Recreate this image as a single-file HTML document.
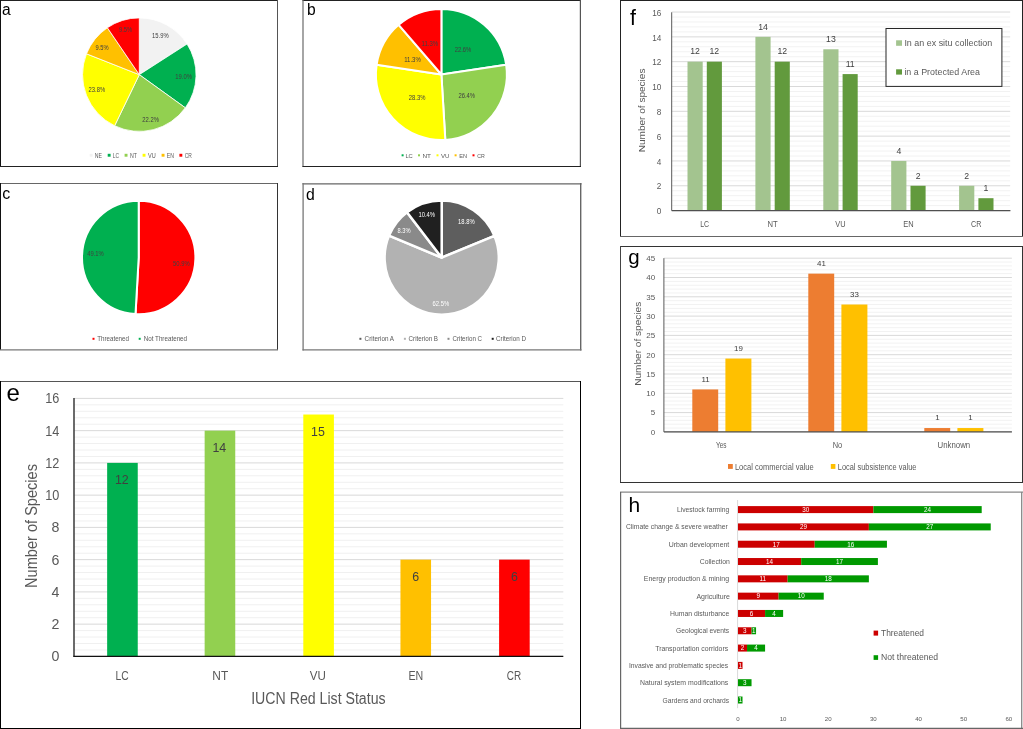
<!DOCTYPE html>
<html><head><meta charset="utf-8"><title>Figure</title>
<style>html,body{margin:0;padding:0;background:#fff;overflow:hidden;}svg{display:block;will-change:transform;}text{font-family:"Liberation Sans", Arial, sans-serif;}</style>
</head><body>
<svg width="1023" height="729" viewBox="0 0 1023 729">
<rect x="0" y="0" width="1023" height="729" fill="#fff"/>
<line x1="0.00" y1="0.50" x2="278.00" y2="0.50" stroke="#222" stroke-width="1"/>
<line x1="0.50" y1="0.00" x2="0.50" y2="167.00" stroke="#111" stroke-width="1"/>
<line x1="277.50" y1="0.00" x2="277.50" y2="167.00" stroke="#555" stroke-width="1"/>
<line x1="0.00" y1="166.50" x2="278.00" y2="166.50" stroke="#222" stroke-width="1"/>
<line x1="302.50" y1="0.50" x2="581.00" y2="0.50" stroke="#222" stroke-width="1"/>
<line x1="303.00" y1="0.00" x2="303.00" y2="167.00" stroke="#6a6a6a" stroke-width="1.2"/>
<line x1="580.40" y1="0.00" x2="580.40" y2="167.00" stroke="#555" stroke-width="1.2"/>
<line x1="302.50" y1="166.50" x2="581.00" y2="166.50" stroke="#222" stroke-width="1"/>
<line x1="0.00" y1="183.50" x2="278.00" y2="183.50" stroke="#666" stroke-width="1"/>
<line x1="0.50" y1="183.00" x2="0.50" y2="350.00" stroke="#111" stroke-width="1"/>
<line x1="277.50" y1="183.00" x2="277.50" y2="350.00" stroke="#333" stroke-width="1"/>
<line x1="0.00" y1="349.80" x2="278.00" y2="349.80" stroke="#777" stroke-width="1.3"/>
<line x1="302.50" y1="183.90" x2="581.50" y2="183.90" stroke="#666" stroke-width="1.3"/>
<line x1="303.10" y1="183.00" x2="303.10" y2="350.40" stroke="#777" stroke-width="1.3"/>
<line x1="580.70" y1="183.00" x2="580.70" y2="350.40" stroke="#666" stroke-width="1.4"/>
<line x1="302.50" y1="349.80" x2="581.50" y2="349.80" stroke="#777" stroke-width="1.3"/>
<line x1="0.00" y1="381.50" x2="581.00" y2="381.50" stroke="#555" stroke-width="1"/>
<line x1="0.50" y1="381.00" x2="0.50" y2="729.00" stroke="#000" stroke-width="1"/>
<line x1="580.50" y1="381.00" x2="580.50" y2="729.00" stroke="#000" stroke-width="1"/>
<line x1="0.00" y1="728.50" x2="581.00" y2="728.50" stroke="#000" stroke-width="1"/>
<line x1="620.00" y1="0.50" x2="1023.00" y2="0.50" stroke="#222" stroke-width="1"/>
<line x1="620.50" y1="0.00" x2="620.50" y2="237.00" stroke="#222" stroke-width="1"/>
<line x1="1022.50" y1="0.00" x2="1022.50" y2="237.00" stroke="#222" stroke-width="1"/>
<line x1="620.00" y1="236.50" x2="1023.00" y2="236.50" stroke="#666" stroke-width="1.2"/>
<line x1="620.00" y1="246.50" x2="1023.00" y2="246.50" stroke="#333" stroke-width="1"/>
<line x1="620.50" y1="246.00" x2="620.50" y2="483.00" stroke="#444" stroke-width="1"/>
<line x1="1022.50" y1="246.00" x2="1022.50" y2="483.00" stroke="#333" stroke-width="1"/>
<line x1="620.00" y1="482.50" x2="1023.00" y2="482.50" stroke="#333" stroke-width="1"/>
<line x1="620.00" y1="492.20" x2="1023.00" y2="492.20" stroke="#888" stroke-width="1.2"/>
<line x1="620.60" y1="492.00" x2="620.60" y2="729.00" stroke="#666" stroke-width="1.2"/>
<line x1="1021.70" y1="492.00" x2="1021.70" y2="729.00" stroke="#888" stroke-width="1.3"/>
<line x1="620.00" y1="728.40" x2="1023.00" y2="728.40" stroke="#666" stroke-width="1.2"/>
<text x="2.00" y="14.60" font-size="15.6" fill="#000" text-anchor="start" >a</text>
<text x="307.00" y="15.10" font-size="15.6" fill="#000" text-anchor="start" >b</text>
<text x="2.20" y="198.90" font-size="16" fill="#000" text-anchor="start" >c</text>
<text x="305.90" y="199.70" font-size="15.8" fill="#000" text-anchor="start" >d</text>
<text x="6.50" y="401.10" font-size="24" fill="#000" text-anchor="start" >e</text>
<text x="629.90" y="24.60" font-size="21.5" fill="#000" text-anchor="start" >f</text>
<text x="628.30" y="264.10" font-size="20.5" fill="#000" text-anchor="start" >g</text>
<text x="628.60" y="512.40" font-size="21" fill="#000" text-anchor="start" >h</text>
<path d="M139.30,74.65 L139.30,17.90 A56.75,56.75 0 0 1 187.05,43.99 Z" fill="#F2F2F2" stroke="#fff" stroke-width="0.8" stroke-linejoin="round"/>
<path d="M139.30,74.65 L187.05,43.99 A56.75,56.75 0 0 1 185.35,107.82 Z" fill="#00B050" stroke="#fff" stroke-width="0.8" stroke-linejoin="round"/>
<path d="M139.30,74.65 L185.35,107.82 A56.75,56.75 0 0 1 114.63,125.76 Z" fill="#92D050" stroke="#fff" stroke-width="0.8" stroke-linejoin="round"/>
<path d="M139.30,74.65 L114.63,125.76 A56.75,56.75 0 0 1 86.51,53.82 Z" fill="#FFFF00" stroke="#fff" stroke-width="0.8" stroke-linejoin="round"/>
<path d="M139.30,74.65 L86.51,53.82 A56.75,56.75 0 0 1 107.37,27.73 Z" fill="#FFC000" stroke="#fff" stroke-width="0.8" stroke-linejoin="round"/>
<path d="M139.30,74.65 L107.37,27.73 A56.75,56.75 0 0 1 139.30,17.90 Z" fill="#FF0000" stroke="#fff" stroke-width="0.8" stroke-linejoin="round"/>
<text x="160.40" y="38.40" font-size="7" fill="#404040" text-anchor="middle" textLength="16.60" lengthAdjust="spacingAndGlyphs" >15.9%</text>
<text x="183.60" y="79.00" font-size="7" fill="#404040" text-anchor="middle" textLength="16.60" lengthAdjust="spacingAndGlyphs" >19.0%</text>
<text x="150.60" y="121.80" font-size="7" fill="#404040" text-anchor="middle" textLength="16.60" lengthAdjust="spacingAndGlyphs" >22.2%</text>
<text x="96.80" y="91.90" font-size="7" fill="#404040" text-anchor="middle" textLength="16.60" lengthAdjust="spacingAndGlyphs" >23.8%</text>
<text x="102.10" y="50.10" font-size="7" fill="#404040" text-anchor="middle" textLength="13.10" lengthAdjust="spacingAndGlyphs" >9.5%</text>
<text x="125.60" y="31.80" font-size="7" fill="#404040" text-anchor="middle" textLength="13.10" lengthAdjust="spacingAndGlyphs" >9.5%</text>
<rect x="89.70" y="153.80" width="2.90" height="2.90" fill="#F2F2F2" />
<text x="94.70" y="157.70" font-size="6.4" fill="#595959" text-anchor="start" textLength="7.20" lengthAdjust="spacingAndGlyphs" >NE</text>
<rect x="107.70" y="153.80" width="2.90" height="2.90" fill="#00B050" />
<text x="112.70" y="157.70" font-size="6.4" fill="#595959" text-anchor="start" textLength="6.30" lengthAdjust="spacingAndGlyphs" >LC</text>
<rect x="124.60" y="153.80" width="2.90" height="2.90" fill="#92D050" />
<text x="130.00" y="157.70" font-size="6.4" fill="#595959" text-anchor="start" textLength="7.00" lengthAdjust="spacingAndGlyphs" >NT</text>
<rect x="142.60" y="153.80" width="2.90" height="2.90" fill="#FFFF00" />
<text x="148.10" y="157.70" font-size="6.4" fill="#595959" text-anchor="start" textLength="7.70" lengthAdjust="spacingAndGlyphs" >VU</text>
<rect x="161.60" y="153.80" width="2.90" height="2.90" fill="#FFC000" />
<text x="166.70" y="157.70" font-size="6.4" fill="#595959" text-anchor="start" textLength="7.20" lengthAdjust="spacingAndGlyphs" >EN</text>
<rect x="179.40" y="153.80" width="2.90" height="2.90" fill="#FF0000" />
<text x="184.70" y="157.70" font-size="6.4" fill="#595959" text-anchor="start" textLength="7.10" lengthAdjust="spacingAndGlyphs" >CR</text>
<path d="M441.40,74.50 L441.40,9.00 A65.5,65.5 0 0 1 506.17,64.75 Z" fill="#00B050" stroke="#fff" stroke-width="2" stroke-linejoin="round"/>
<path d="M441.40,74.50 L506.17,64.75 A65.5,65.5 0 0 1 445.31,139.88 Z" fill="#92D050" stroke="#fff" stroke-width="2" stroke-linejoin="round"/>
<path d="M441.40,74.50 L445.31,139.88 A65.5,65.5 0 0 1 376.63,64.75 Z" fill="#FFFF00" stroke="#fff" stroke-width="2" stroke-linejoin="round"/>
<path d="M441.40,74.50 L376.63,64.75 A65.5,65.5 0 0 1 398.67,24.86 Z" fill="#FFC000" stroke="#fff" stroke-width="2" stroke-linejoin="round"/>
<path d="M441.40,74.50 L398.67,24.86 A65.5,65.5 0 0 1 441.40,9.00 Z" fill="#FF0000" stroke="#fff" stroke-width="2" stroke-linejoin="round"/>
<text x="463.00" y="52.10" font-size="7" fill="#404040" text-anchor="middle" textLength="16.60" lengthAdjust="spacingAndGlyphs" >22.6%</text>
<text x="466.70" y="98.30" font-size="7" fill="#404040" text-anchor="middle" textLength="16.60" lengthAdjust="spacingAndGlyphs" >26.4%</text>
<text x="417.10" y="99.70" font-size="7" fill="#404040" text-anchor="middle" textLength="16.60" lengthAdjust="spacingAndGlyphs" >28.3%</text>
<text x="412.50" y="61.70" font-size="7" fill="#404040" text-anchor="middle" textLength="16.60" lengthAdjust="spacingAndGlyphs" >11.3%</text>
<text x="429.80" y="46.40" font-size="7" fill="#404040" text-anchor="middle" textLength="16.60" lengthAdjust="spacingAndGlyphs" >11.3%</text>
<rect x="401.60" y="154.30" width="2.00" height="2.00" fill="#00B050" />
<text x="405.40" y="157.60" font-size="6.2" fill="#595959" text-anchor="start" textLength="7.40" lengthAdjust="spacingAndGlyphs" >LC</text>
<rect x="418.00" y="154.30" width="2.00" height="2.00" fill="#92D050" />
<text x="422.40" y="157.60" font-size="6.2" fill="#595959" text-anchor="start" textLength="8.60" lengthAdjust="spacingAndGlyphs" >NT</text>
<rect x="436.50" y="154.30" width="2.00" height="2.00" fill="#FFFF00" />
<text x="440.90" y="157.60" font-size="6.2" fill="#595959" text-anchor="start" textLength="8.50" lengthAdjust="spacingAndGlyphs" >VU</text>
<rect x="454.60" y="154.30" width="2.00" height="2.00" fill="#FFC000" />
<text x="459.30" y="157.60" font-size="6.2" fill="#595959" text-anchor="start" textLength="7.90" lengthAdjust="spacingAndGlyphs" >EN</text>
<rect x="472.50" y="154.30" width="2.00" height="2.00" fill="#FF0000" />
<text x="477.20" y="157.60" font-size="6.2" fill="#595959" text-anchor="start" textLength="7.60" lengthAdjust="spacingAndGlyphs" >CR</text>
<path d="M138.70,257.50 L138.70,200.80 A56.7,56.7 0 1 1 135.50,314.11 Z" fill="#FF0000" stroke="#fff" stroke-width="2" stroke-linejoin="round"/>
<path d="M138.70,257.50 L135.50,314.11 A56.7,56.7 0 0 1 138.70,200.80 Z" fill="#00B050" stroke="#fff" stroke-width="2" stroke-linejoin="round"/>
<text x="181.40" y="266.20" font-size="7" fill="#404040" text-anchor="middle" textLength="16.60" lengthAdjust="spacingAndGlyphs" >50.9%</text>
<text x="95.50" y="255.70" font-size="7" fill="#404040" text-anchor="middle" textLength="16.60" lengthAdjust="spacingAndGlyphs" >49.1%</text>
<rect x="92.50" y="337.80" width="2.00" height="2.00" fill="#FF0000" />
<text x="97.20" y="341.30" font-size="6.4" fill="#595959" text-anchor="start" textLength="31.80" lengthAdjust="spacingAndGlyphs" >Threatened</text>
<rect x="138.70" y="337.80" width="2.00" height="2.00" fill="#00B050" />
<text x="143.70" y="341.30" font-size="6.4" fill="#595959" text-anchor="start" textLength="43.40" lengthAdjust="spacingAndGlyphs" >Not Threatened</text>
<path d="M441.70,257.60 L441.70,200.50 A57.1,57.1 0 0 1 494.52,235.91 Z" fill="#5E5E5E" stroke="#fff" stroke-width="2.5" stroke-linejoin="round"/>
<path d="M441.70,257.60 L494.52,235.91 A57.1,57.1 0 1 1 389.02,235.58 Z" fill="#B2B2B2" stroke="#fff" stroke-width="2.5" stroke-linejoin="round"/>
<path d="M441.70,257.60 L389.02,235.58 A57.1,57.1 0 0 1 406.99,212.26 Z" fill="#8A8A8A" stroke="#fff" stroke-width="2.5" stroke-linejoin="round"/>
<path d="M441.70,257.60 L406.99,212.26 A57.1,57.1 0 0 1 441.70,200.50 Z" fill="#202020" stroke="#fff" stroke-width="2.5" stroke-linejoin="round"/>
<text x="466.40" y="223.70" font-size="7" fill="#fff" text-anchor="middle" textLength="16.60" lengthAdjust="spacingAndGlyphs" >18.8%</text>
<text x="440.90" y="305.60" font-size="7" fill="#fff" text-anchor="middle" textLength="16.60" lengthAdjust="spacingAndGlyphs" >62.5%</text>
<text x="404.00" y="233.10" font-size="7" fill="#fff" text-anchor="middle" textLength="13.10" lengthAdjust="spacingAndGlyphs" >8.3%</text>
<text x="426.70" y="216.60" font-size="7" fill="#fff" text-anchor="middle" textLength="16.60" lengthAdjust="spacingAndGlyphs" >10.4%</text>
<rect x="359.40" y="337.80" width="2.00" height="2.00" fill="#5E5E5E" />
<text x="364.60" y="341.30" font-size="6.4" fill="#595959" text-anchor="start" textLength="29.50" lengthAdjust="spacingAndGlyphs" >Criterion A</text>
<rect x="403.90" y="337.80" width="2.00" height="2.00" fill="#B2B2B2" />
<text x="408.60" y="341.30" font-size="6.4" fill="#595959" text-anchor="start" textLength="29.40" lengthAdjust="spacingAndGlyphs" >Criterion B</text>
<rect x="447.50" y="337.80" width="2.00" height="2.00" fill="#8A8A8A" />
<text x="452.50" y="341.30" font-size="6.4" fill="#595959" text-anchor="start" textLength="29.50" lengthAdjust="spacingAndGlyphs" >Criterion C</text>
<rect x="491.70" y="337.80" width="2.00" height="2.00" fill="#202020" />
<text x="496.10" y="341.30" font-size="6.4" fill="#595959" text-anchor="start" textLength="29.80" lengthAdjust="spacingAndGlyphs" >Criterion D</text>
<line x1="74.00" y1="656.40" x2="563.30" y2="656.40" stroke="#D9D9D9" stroke-width="1"/>
<line x1="74.00" y1="649.95" x2="563.30" y2="649.95" stroke="#F0F0F0" stroke-width="1"/>
<line x1="74.00" y1="643.50" x2="563.30" y2="643.50" stroke="#F0F0F0" stroke-width="1"/>
<line x1="74.00" y1="637.05" x2="563.30" y2="637.05" stroke="#F0F0F0" stroke-width="1"/>
<line x1="74.00" y1="630.60" x2="563.30" y2="630.60" stroke="#F0F0F0" stroke-width="1"/>
<line x1="74.00" y1="624.15" x2="563.30" y2="624.15" stroke="#D9D9D9" stroke-width="1"/>
<line x1="74.00" y1="617.70" x2="563.30" y2="617.70" stroke="#F0F0F0" stroke-width="1"/>
<line x1="74.00" y1="611.25" x2="563.30" y2="611.25" stroke="#F0F0F0" stroke-width="1"/>
<line x1="74.00" y1="604.80" x2="563.30" y2="604.80" stroke="#F0F0F0" stroke-width="1"/>
<line x1="74.00" y1="598.35" x2="563.30" y2="598.35" stroke="#F0F0F0" stroke-width="1"/>
<line x1="74.00" y1="591.90" x2="563.30" y2="591.90" stroke="#D9D9D9" stroke-width="1"/>
<line x1="74.00" y1="585.45" x2="563.30" y2="585.45" stroke="#F0F0F0" stroke-width="1"/>
<line x1="74.00" y1="579.00" x2="563.30" y2="579.00" stroke="#F0F0F0" stroke-width="1"/>
<line x1="74.00" y1="572.55" x2="563.30" y2="572.55" stroke="#F0F0F0" stroke-width="1"/>
<line x1="74.00" y1="566.10" x2="563.30" y2="566.10" stroke="#F0F0F0" stroke-width="1"/>
<line x1="74.00" y1="559.65" x2="563.30" y2="559.65" stroke="#D9D9D9" stroke-width="1"/>
<line x1="74.00" y1="553.20" x2="563.30" y2="553.20" stroke="#F0F0F0" stroke-width="1"/>
<line x1="74.00" y1="546.75" x2="563.30" y2="546.75" stroke="#F0F0F0" stroke-width="1"/>
<line x1="74.00" y1="540.30" x2="563.30" y2="540.30" stroke="#F0F0F0" stroke-width="1"/>
<line x1="74.00" y1="533.85" x2="563.30" y2="533.85" stroke="#F0F0F0" stroke-width="1"/>
<line x1="74.00" y1="527.40" x2="563.30" y2="527.40" stroke="#D9D9D9" stroke-width="1"/>
<line x1="74.00" y1="520.95" x2="563.30" y2="520.95" stroke="#F0F0F0" stroke-width="1"/>
<line x1="74.00" y1="514.50" x2="563.30" y2="514.50" stroke="#F0F0F0" stroke-width="1"/>
<line x1="74.00" y1="508.05" x2="563.30" y2="508.05" stroke="#F0F0F0" stroke-width="1"/>
<line x1="74.00" y1="501.60" x2="563.30" y2="501.60" stroke="#F0F0F0" stroke-width="1"/>
<line x1="74.00" y1="495.15" x2="563.30" y2="495.15" stroke="#D9D9D9" stroke-width="1"/>
<line x1="74.00" y1="488.70" x2="563.30" y2="488.70" stroke="#F0F0F0" stroke-width="1"/>
<line x1="74.00" y1="482.25" x2="563.30" y2="482.25" stroke="#F0F0F0" stroke-width="1"/>
<line x1="74.00" y1="475.80" x2="563.30" y2="475.80" stroke="#F0F0F0" stroke-width="1"/>
<line x1="74.00" y1="469.35" x2="563.30" y2="469.35" stroke="#F0F0F0" stroke-width="1"/>
<line x1="74.00" y1="462.90" x2="563.30" y2="462.90" stroke="#D9D9D9" stroke-width="1"/>
<line x1="74.00" y1="456.45" x2="563.30" y2="456.45" stroke="#F0F0F0" stroke-width="1"/>
<line x1="74.00" y1="450.00" x2="563.30" y2="450.00" stroke="#F0F0F0" stroke-width="1"/>
<line x1="74.00" y1="443.55" x2="563.30" y2="443.55" stroke="#F0F0F0" stroke-width="1"/>
<line x1="74.00" y1="437.10" x2="563.30" y2="437.10" stroke="#F0F0F0" stroke-width="1"/>
<line x1="74.00" y1="430.65" x2="563.30" y2="430.65" stroke="#D9D9D9" stroke-width="1"/>
<line x1="74.00" y1="424.20" x2="563.30" y2="424.20" stroke="#F0F0F0" stroke-width="1"/>
<line x1="74.00" y1="417.75" x2="563.30" y2="417.75" stroke="#F0F0F0" stroke-width="1"/>
<line x1="74.00" y1="411.30" x2="563.30" y2="411.30" stroke="#F0F0F0" stroke-width="1"/>
<line x1="74.00" y1="404.85" x2="563.30" y2="404.85" stroke="#F0F0F0" stroke-width="1"/>
<line x1="74.00" y1="398.40" x2="563.30" y2="398.40" stroke="#D9D9D9" stroke-width="1"/>
<rect x="107.15" y="462.90" width="30.60" height="193.50" fill="#00B050" />
<text x="121.85" y="484.30" font-size="12.4" fill="#404040" text-anchor="middle" >12</text>
<rect x="204.65" y="430.65" width="30.60" height="225.75" fill="#92D050" />
<text x="219.35" y="452.05" font-size="12.4" fill="#404040" text-anchor="middle" >14</text>
<rect x="303.30" y="414.52" width="30.60" height="241.88" fill="#FFFF00" />
<text x="318.00" y="435.92" font-size="12.4" fill="#404040" text-anchor="middle" >15</text>
<rect x="400.45" y="559.65" width="30.60" height="96.75" fill="#FFC000" />
<text x="415.75" y="581.05" font-size="12.4" fill="#404040" text-anchor="middle" >6</text>
<rect x="499.10" y="559.65" width="30.60" height="96.75" fill="#FF0000" />
<text x="514.40" y="581.05" font-size="12.4" fill="#404040" text-anchor="middle" >6</text>
<text x="115.50" y="679.60" font-size="13.6" fill="#595959" text-anchor="start" textLength="13.20" lengthAdjust="spacingAndGlyphs" >LC</text>
<text x="212.30" y="679.60" font-size="13.6" fill="#595959" text-anchor="start" textLength="15.90" lengthAdjust="spacingAndGlyphs" >NT</text>
<text x="309.70" y="679.60" font-size="13.6" fill="#595959" text-anchor="start" textLength="16.10" lengthAdjust="spacingAndGlyphs" >VU</text>
<text x="408.40" y="679.60" font-size="13.6" fill="#595959" text-anchor="start" textLength="14.80" lengthAdjust="spacingAndGlyphs" >EN</text>
<text x="506.80" y="679.60" font-size="13.6" fill="#595959" text-anchor="start" textLength="14.40" lengthAdjust="spacingAndGlyphs" >CR</text>
<line x1="74.00" y1="398.00" x2="74.00" y2="656.40" stroke="#3a3a3a" stroke-width="1.5"/>
<line x1="73.25" y1="656.40" x2="563.30" y2="656.40" stroke="#111" stroke-width="1.2"/>
<text x="59.40" y="661.30" font-size="14.2" fill="#595959" text-anchor="end" >0</text>
<text x="59.40" y="629.05" font-size="14.2" fill="#595959" text-anchor="end" >2</text>
<text x="59.40" y="596.80" font-size="14.2" fill="#595959" text-anchor="end" >4</text>
<text x="59.40" y="564.55" font-size="14.2" fill="#595959" text-anchor="end" >6</text>
<text x="59.40" y="532.30" font-size="14.2" fill="#595959" text-anchor="end" >8</text>
<text x="59.40" y="500.05" font-size="14.2" fill="#595959" text-anchor="end" textLength="14.10" lengthAdjust="spacingAndGlyphs" >10</text>
<text x="59.40" y="467.80" font-size="14.2" fill="#595959" text-anchor="end" textLength="14.10" lengthAdjust="spacingAndGlyphs" >12</text>
<text x="59.40" y="435.55" font-size="14.2" fill="#595959" text-anchor="end" textLength="14.10" lengthAdjust="spacingAndGlyphs" >14</text>
<text x="59.40" y="403.30" font-size="14.2" fill="#595959" text-anchor="end" textLength="14.10" lengthAdjust="spacingAndGlyphs" >16</text>
<text x="251.20" y="704.00" font-size="15.6" fill="#595959" text-anchor="start" textLength="134.40" lengthAdjust="spacingAndGlyphs" >IUCN Red List Status</text>
<text x="0" y="0" font-size="15.6" fill="#595959" text-anchor="middle" textLength="123.9" lengthAdjust="spacingAndGlyphs" transform="translate(36.6,526) rotate(-90)">Number of Species</text>
<line x1="671.70" y1="210.60" x2="1010.20" y2="210.60" stroke="#D9D9D9" stroke-width="1"/>
<line x1="671.70" y1="205.64" x2="1010.20" y2="205.64" stroke="#F2F2F2" stroke-width="1"/>
<line x1="671.70" y1="200.67" x2="1010.20" y2="200.67" stroke="#F2F2F2" stroke-width="1"/>
<line x1="671.70" y1="195.71" x2="1010.20" y2="195.71" stroke="#F2F2F2" stroke-width="1"/>
<line x1="671.70" y1="190.74" x2="1010.20" y2="190.74" stroke="#F2F2F2" stroke-width="1"/>
<line x1="671.70" y1="185.78" x2="1010.20" y2="185.78" stroke="#D9D9D9" stroke-width="1"/>
<line x1="671.70" y1="180.82" x2="1010.20" y2="180.82" stroke="#F2F2F2" stroke-width="1"/>
<line x1="671.70" y1="175.85" x2="1010.20" y2="175.85" stroke="#F2F2F2" stroke-width="1"/>
<line x1="671.70" y1="170.89" x2="1010.20" y2="170.89" stroke="#F2F2F2" stroke-width="1"/>
<line x1="671.70" y1="165.92" x2="1010.20" y2="165.92" stroke="#F2F2F2" stroke-width="1"/>
<line x1="671.70" y1="160.96" x2="1010.20" y2="160.96" stroke="#D9D9D9" stroke-width="1"/>
<line x1="671.70" y1="156.00" x2="1010.20" y2="156.00" stroke="#F2F2F2" stroke-width="1"/>
<line x1="671.70" y1="151.03" x2="1010.20" y2="151.03" stroke="#F2F2F2" stroke-width="1"/>
<line x1="671.70" y1="146.07" x2="1010.20" y2="146.07" stroke="#F2F2F2" stroke-width="1"/>
<line x1="671.70" y1="141.10" x2="1010.20" y2="141.10" stroke="#F2F2F2" stroke-width="1"/>
<line x1="671.70" y1="136.14" x2="1010.20" y2="136.14" stroke="#D9D9D9" stroke-width="1"/>
<line x1="671.70" y1="131.18" x2="1010.20" y2="131.18" stroke="#F2F2F2" stroke-width="1"/>
<line x1="671.70" y1="126.21" x2="1010.20" y2="126.21" stroke="#F2F2F2" stroke-width="1"/>
<line x1="671.70" y1="121.25" x2="1010.20" y2="121.25" stroke="#F2F2F2" stroke-width="1"/>
<line x1="671.70" y1="116.28" x2="1010.20" y2="116.28" stroke="#F2F2F2" stroke-width="1"/>
<line x1="671.70" y1="111.32" x2="1010.20" y2="111.32" stroke="#D9D9D9" stroke-width="1"/>
<line x1="671.70" y1="106.36" x2="1010.20" y2="106.36" stroke="#F2F2F2" stroke-width="1"/>
<line x1="671.70" y1="101.39" x2="1010.20" y2="101.39" stroke="#F2F2F2" stroke-width="1"/>
<line x1="671.70" y1="96.43" x2="1010.20" y2="96.43" stroke="#F2F2F2" stroke-width="1"/>
<line x1="671.70" y1="91.46" x2="1010.20" y2="91.46" stroke="#F2F2F2" stroke-width="1"/>
<line x1="671.70" y1="86.50" x2="1010.20" y2="86.50" stroke="#D9D9D9" stroke-width="1"/>
<line x1="671.70" y1="81.54" x2="1010.20" y2="81.54" stroke="#F2F2F2" stroke-width="1"/>
<line x1="671.70" y1="76.57" x2="1010.20" y2="76.57" stroke="#F2F2F2" stroke-width="1"/>
<line x1="671.70" y1="71.61" x2="1010.20" y2="71.61" stroke="#F2F2F2" stroke-width="1"/>
<line x1="671.70" y1="66.64" x2="1010.20" y2="66.64" stroke="#F2F2F2" stroke-width="1"/>
<line x1="671.70" y1="61.68" x2="1010.20" y2="61.68" stroke="#D9D9D9" stroke-width="1"/>
<line x1="671.70" y1="56.72" x2="1010.20" y2="56.72" stroke="#F2F2F2" stroke-width="1"/>
<line x1="671.70" y1="51.75" x2="1010.20" y2="51.75" stroke="#F2F2F2" stroke-width="1"/>
<line x1="671.70" y1="46.79" x2="1010.20" y2="46.79" stroke="#F2F2F2" stroke-width="1"/>
<line x1="671.70" y1="41.82" x2="1010.20" y2="41.82" stroke="#F2F2F2" stroke-width="1"/>
<line x1="671.70" y1="36.86" x2="1010.20" y2="36.86" stroke="#D9D9D9" stroke-width="1"/>
<line x1="671.70" y1="31.90" x2="1010.20" y2="31.90" stroke="#F2F2F2" stroke-width="1"/>
<line x1="671.70" y1="26.93" x2="1010.20" y2="26.93" stroke="#F2F2F2" stroke-width="1"/>
<line x1="671.70" y1="21.97" x2="1010.20" y2="21.97" stroke="#F2F2F2" stroke-width="1"/>
<line x1="671.70" y1="17.00" x2="1010.20" y2="17.00" stroke="#F2F2F2" stroke-width="1"/>
<line x1="671.70" y1="12.04" x2="1010.20" y2="12.04" stroke="#D9D9D9" stroke-width="1"/>
<rect x="687.50" y="61.68" width="15.20" height="148.92" fill="#A3C48F" />
<rect x="706.80" y="61.68" width="15.10" height="148.92" fill="#629A3D" />
<text x="695.10" y="54.48" font-size="8.7" fill="#404040" text-anchor="middle" >12</text>
<text x="714.35" y="54.48" font-size="8.7" fill="#404040" text-anchor="middle" >12</text>
<text x="704.65" y="227.00" font-size="9.1" fill="#595959" text-anchor="middle" textLength="8.90" lengthAdjust="spacingAndGlyphs" >LC</text>
<rect x="755.40" y="36.86" width="15.20" height="173.74" fill="#A3C48F" />
<rect x="774.70" y="61.68" width="15.10" height="148.92" fill="#629A3D" />
<text x="763.00" y="29.66" font-size="8.7" fill="#404040" text-anchor="middle" >14</text>
<text x="782.25" y="54.48" font-size="8.7" fill="#404040" text-anchor="middle" >12</text>
<text x="772.55" y="227.00" font-size="9.1" fill="#595959" text-anchor="middle" textLength="10.20" lengthAdjust="spacingAndGlyphs" >NT</text>
<rect x="823.30" y="49.27" width="15.20" height="161.33" fill="#A3C48F" />
<rect x="842.60" y="74.09" width="15.10" height="136.51" fill="#629A3D" />
<text x="830.90" y="42.07" font-size="8.7" fill="#404040" text-anchor="middle" >13</text>
<text x="850.15" y="66.89" font-size="8.7" fill="#404040" text-anchor="middle" >11</text>
<text x="840.45" y="227.00" font-size="9.1" fill="#595959" text-anchor="middle" textLength="10.30" lengthAdjust="spacingAndGlyphs" >VU</text>
<rect x="891.20" y="160.96" width="15.20" height="49.64" fill="#A3C48F" />
<rect x="910.50" y="185.78" width="15.10" height="24.82" fill="#629A3D" />
<text x="898.80" y="153.76" font-size="8.7" fill="#404040" text-anchor="middle" >4</text>
<text x="918.05" y="178.58" font-size="8.7" fill="#404040" text-anchor="middle" >2</text>
<text x="908.35" y="227.00" font-size="9.1" fill="#595959" text-anchor="middle" textLength="10.40" lengthAdjust="spacingAndGlyphs" >EN</text>
<rect x="959.10" y="185.78" width="15.20" height="24.82" fill="#A3C48F" />
<rect x="978.40" y="198.19" width="15.10" height="12.41" fill="#629A3D" />
<text x="966.70" y="178.58" font-size="8.7" fill="#404040" text-anchor="middle" >2</text>
<text x="985.95" y="190.99" font-size="8.7" fill="#404040" text-anchor="middle" >1</text>
<text x="976.25" y="227.00" font-size="9.1" fill="#595959" text-anchor="middle" textLength="10.40" lengthAdjust="spacingAndGlyphs" >CR</text>
<line x1="671.70" y1="12.30" x2="671.70" y2="210.60" stroke="#595959" stroke-width="1"/>
<line x1="671.70" y1="210.60" x2="1010.40" y2="210.60" stroke="#505050" stroke-width="1.4"/>
<text x="661.30" y="214.30" font-size="8.2" fill="#595959" text-anchor="end" >0</text>
<text x="661.30" y="189.48" font-size="8.2" fill="#595959" text-anchor="end" >2</text>
<text x="661.30" y="164.66" font-size="8.2" fill="#595959" text-anchor="end" >4</text>
<text x="661.30" y="139.84" font-size="8.2" fill="#595959" text-anchor="end" >6</text>
<text x="661.30" y="115.02" font-size="8.2" fill="#595959" text-anchor="end" >8</text>
<text x="661.30" y="90.20" font-size="8.2" fill="#595959" text-anchor="end" >10</text>
<text x="661.30" y="65.38" font-size="8.2" fill="#595959" text-anchor="end" >12</text>
<text x="661.30" y="40.56" font-size="8.2" fill="#595959" text-anchor="end" >14</text>
<text x="661.30" y="15.74" font-size="8.2" fill="#595959" text-anchor="end" >16</text>
<text x="0" y="0" font-size="9.9" fill="#595959" text-anchor="middle" textLength="83.7" lengthAdjust="spacingAndGlyphs" transform="translate(644.8,110.4) rotate(-90)">Number of species</text>
<rect x="886.00" y="28.50" width="115.90" height="57.90" fill="#fff" stroke="#262626" stroke-width="1"/>
<rect x="896.10" y="40.30" width="5.90" height="5.50" fill="#A3C48F" />
<text x="904.40" y="46.10" font-size="8.8" fill="#595959" text-anchor="start" textLength="87.90" lengthAdjust="spacingAndGlyphs" >In an ex situ collection</text>
<rect x="896.10" y="69.30" width="5.90" height="5.30" fill="#629A3D" />
<text x="904.40" y="74.90" font-size="8.8" fill="#595959" text-anchor="start" textLength="75.60" lengthAdjust="spacingAndGlyphs" >in a Protected Area</text>
<line x1="663.90" y1="431.90" x2="1011.90" y2="431.90" stroke="#D9D9D9" stroke-width="1"/>
<line x1="663.90" y1="428.04" x2="1011.90" y2="428.04" stroke="#F2F2F2" stroke-width="1"/>
<line x1="663.90" y1="424.18" x2="1011.90" y2="424.18" stroke="#F2F2F2" stroke-width="1"/>
<line x1="663.90" y1="420.32" x2="1011.90" y2="420.32" stroke="#F2F2F2" stroke-width="1"/>
<line x1="663.90" y1="416.46" x2="1011.90" y2="416.46" stroke="#F2F2F2" stroke-width="1"/>
<line x1="663.90" y1="412.60" x2="1011.90" y2="412.60" stroke="#D9D9D9" stroke-width="1"/>
<line x1="663.90" y1="408.74" x2="1011.90" y2="408.74" stroke="#F2F2F2" stroke-width="1"/>
<line x1="663.90" y1="404.88" x2="1011.90" y2="404.88" stroke="#F2F2F2" stroke-width="1"/>
<line x1="663.90" y1="401.02" x2="1011.90" y2="401.02" stroke="#F2F2F2" stroke-width="1"/>
<line x1="663.90" y1="397.16" x2="1011.90" y2="397.16" stroke="#F2F2F2" stroke-width="1"/>
<line x1="663.90" y1="393.30" x2="1011.90" y2="393.30" stroke="#D9D9D9" stroke-width="1"/>
<line x1="663.90" y1="389.44" x2="1011.90" y2="389.44" stroke="#F2F2F2" stroke-width="1"/>
<line x1="663.90" y1="385.58" x2="1011.90" y2="385.58" stroke="#F2F2F2" stroke-width="1"/>
<line x1="663.90" y1="381.72" x2="1011.90" y2="381.72" stroke="#F2F2F2" stroke-width="1"/>
<line x1="663.90" y1="377.86" x2="1011.90" y2="377.86" stroke="#F2F2F2" stroke-width="1"/>
<line x1="663.90" y1="374.00" x2="1011.90" y2="374.00" stroke="#D9D9D9" stroke-width="1"/>
<line x1="663.90" y1="370.14" x2="1011.90" y2="370.14" stroke="#F2F2F2" stroke-width="1"/>
<line x1="663.90" y1="366.28" x2="1011.90" y2="366.28" stroke="#F2F2F2" stroke-width="1"/>
<line x1="663.90" y1="362.42" x2="1011.90" y2="362.42" stroke="#F2F2F2" stroke-width="1"/>
<line x1="663.90" y1="358.56" x2="1011.90" y2="358.56" stroke="#F2F2F2" stroke-width="1"/>
<line x1="663.90" y1="354.70" x2="1011.90" y2="354.70" stroke="#D9D9D9" stroke-width="1"/>
<line x1="663.90" y1="350.84" x2="1011.90" y2="350.84" stroke="#F2F2F2" stroke-width="1"/>
<line x1="663.90" y1="346.98" x2="1011.90" y2="346.98" stroke="#F2F2F2" stroke-width="1"/>
<line x1="663.90" y1="343.12" x2="1011.90" y2="343.12" stroke="#F2F2F2" stroke-width="1"/>
<line x1="663.90" y1="339.26" x2="1011.90" y2="339.26" stroke="#F2F2F2" stroke-width="1"/>
<line x1="663.90" y1="335.40" x2="1011.90" y2="335.40" stroke="#D9D9D9" stroke-width="1"/>
<line x1="663.90" y1="331.54" x2="1011.90" y2="331.54" stroke="#F2F2F2" stroke-width="1"/>
<line x1="663.90" y1="327.68" x2="1011.90" y2="327.68" stroke="#F2F2F2" stroke-width="1"/>
<line x1="663.90" y1="323.82" x2="1011.90" y2="323.82" stroke="#F2F2F2" stroke-width="1"/>
<line x1="663.90" y1="319.96" x2="1011.90" y2="319.96" stroke="#F2F2F2" stroke-width="1"/>
<line x1="663.90" y1="316.10" x2="1011.90" y2="316.10" stroke="#D9D9D9" stroke-width="1"/>
<line x1="663.90" y1="312.24" x2="1011.90" y2="312.24" stroke="#F2F2F2" stroke-width="1"/>
<line x1="663.90" y1="308.38" x2="1011.90" y2="308.38" stroke="#F2F2F2" stroke-width="1"/>
<line x1="663.90" y1="304.52" x2="1011.90" y2="304.52" stroke="#F2F2F2" stroke-width="1"/>
<line x1="663.90" y1="300.66" x2="1011.90" y2="300.66" stroke="#F2F2F2" stroke-width="1"/>
<line x1="663.90" y1="296.80" x2="1011.90" y2="296.80" stroke="#D9D9D9" stroke-width="1"/>
<line x1="663.90" y1="292.94" x2="1011.90" y2="292.94" stroke="#F2F2F2" stroke-width="1"/>
<line x1="663.90" y1="289.08" x2="1011.90" y2="289.08" stroke="#F2F2F2" stroke-width="1"/>
<line x1="663.90" y1="285.22" x2="1011.90" y2="285.22" stroke="#F2F2F2" stroke-width="1"/>
<line x1="663.90" y1="281.36" x2="1011.90" y2="281.36" stroke="#F2F2F2" stroke-width="1"/>
<line x1="663.90" y1="277.50" x2="1011.90" y2="277.50" stroke="#D9D9D9" stroke-width="1"/>
<line x1="663.90" y1="273.64" x2="1011.90" y2="273.64" stroke="#F2F2F2" stroke-width="1"/>
<line x1="663.90" y1="269.78" x2="1011.90" y2="269.78" stroke="#F2F2F2" stroke-width="1"/>
<line x1="663.90" y1="265.92" x2="1011.90" y2="265.92" stroke="#F2F2F2" stroke-width="1"/>
<line x1="663.90" y1="262.06" x2="1011.90" y2="262.06" stroke="#F2F2F2" stroke-width="1"/>
<line x1="663.90" y1="258.20" x2="1011.90" y2="258.20" stroke="#D9D9D9" stroke-width="1"/>
<rect x="692.30" y="389.44" width="25.90" height="42.46" fill="#ED7D31" />
<rect x="725.40" y="358.56" width="26.00" height="73.34" fill="#FFC000" />
<text x="705.50" y="381.54" font-size="7.9" fill="#404040" text-anchor="middle" >11</text>
<text x="738.40" y="350.66" font-size="7.9" fill="#404040" text-anchor="middle" >19</text>
<rect x="808.30" y="273.64" width="25.90" height="158.26" fill="#ED7D31" />
<rect x="841.40" y="304.52" width="26.00" height="127.38" fill="#FFC000" />
<text x="821.50" y="265.74" font-size="7.9" fill="#404040" text-anchor="middle" >41</text>
<text x="854.40" y="296.62" font-size="7.9" fill="#404040" text-anchor="middle" >33</text>
<rect x="924.30" y="428.04" width="25.90" height="3.86" fill="#ED7D31" />
<rect x="957.40" y="428.04" width="26.00" height="3.86" fill="#FFC000" />
<text x="937.50" y="420.14" font-size="7.9" fill="#404040" text-anchor="middle" >1</text>
<text x="970.40" y="420.14" font-size="7.9" fill="#404040" text-anchor="middle" >1</text>
<text x="716.10" y="448.20" font-size="9" fill="#595959" text-anchor="start" textLength="10.50" lengthAdjust="spacingAndGlyphs" >Yes</text>
<text x="832.70" y="448.20" font-size="9" fill="#595959" text-anchor="start" textLength="9.50" lengthAdjust="spacingAndGlyphs" >No</text>
<text x="937.60" y="448.20" font-size="9" fill="#595959" text-anchor="start" textLength="32.60" lengthAdjust="spacingAndGlyphs" >Unknown</text>
<line x1="663.90" y1="258.20" x2="663.90" y2="431.90" stroke="#595959" stroke-width="1"/>
<line x1="663.90" y1="431.90" x2="1011.90" y2="431.90" stroke="#505050" stroke-width="1.4"/>
<text x="655.10" y="434.75" font-size="8" fill="#595959" text-anchor="end" >0</text>
<text x="655.10" y="415.45" font-size="8" fill="#595959" text-anchor="end" >5</text>
<text x="655.10" y="396.15" font-size="8" fill="#595959" text-anchor="end" >10</text>
<text x="655.10" y="376.85" font-size="8" fill="#595959" text-anchor="end" >15</text>
<text x="655.10" y="357.55" font-size="8" fill="#595959" text-anchor="end" >20</text>
<text x="655.10" y="338.25" font-size="8" fill="#595959" text-anchor="end" >25</text>
<text x="655.10" y="318.95" font-size="8" fill="#595959" text-anchor="end" >30</text>
<text x="655.10" y="299.65" font-size="8" fill="#595959" text-anchor="end" >35</text>
<text x="655.10" y="280.35" font-size="8" fill="#595959" text-anchor="end" >40</text>
<text x="655.10" y="261.05" font-size="8" fill="#595959" text-anchor="end" >45</text>
<text x="0" y="0" font-size="8.7" fill="#595959" text-anchor="middle" textLength="84" lengthAdjust="spacingAndGlyphs" transform="translate(641.3,343.8) rotate(-90)">Number of species</text>
<rect x="728.00" y="464.00" width="4.80" height="4.90" fill="#ED7D31" />
<text x="734.90" y="469.80" font-size="9.3" fill="#595959" text-anchor="start" textLength="78.80" lengthAdjust="spacingAndGlyphs" >Local commercial value</text>
<rect x="830.80" y="464.00" width="4.60" height="4.90" fill="#FFC000" />
<text x="837.80" y="469.80" font-size="9.3" fill="#595959" text-anchor="start" textLength="78.60" lengthAdjust="spacingAndGlyphs" >Local subsistence value</text>
<line x1="737.60" y1="500.00" x2="737.60" y2="708.20" stroke="#D9D9D9" stroke-width="1"/>
<rect x="738.00" y="506.10" width="135.39" height="7.00" fill="#CC0000" />
<rect x="873.39" y="506.10" width="108.31" height="7.00" fill="#009900" />
<text x="805.69" y="511.90" font-size="6.3" fill="#fff" text-anchor="middle" >30</text>
<text x="927.55" y="511.90" font-size="6.3" fill="#fff" text-anchor="middle" >24</text>
<text x="676.90" y="512.10" font-size="7.7" fill="#595959" text-anchor="start" textLength="52.40" lengthAdjust="spacingAndGlyphs" >Livestock farming</text>
<rect x="738.00" y="523.41" width="130.88" height="7.00" fill="#CC0000" />
<rect x="868.88" y="523.41" width="121.85" height="7.00" fill="#009900" />
<text x="803.44" y="529.21" font-size="6.3" fill="#fff" text-anchor="middle" >29</text>
<text x="929.80" y="529.21" font-size="6.3" fill="#fff" text-anchor="middle" >27</text>
<text x="625.90" y="529.41" font-size="7.7" fill="#595959" text-anchor="start" textLength="101.80" lengthAdjust="spacingAndGlyphs" >Climate change &amp; severe weather</text>
<rect x="738.00" y="540.72" width="76.72" height="7.00" fill="#CC0000" />
<rect x="814.72" y="540.72" width="72.21" height="7.00" fill="#009900" />
<text x="776.36" y="546.52" font-size="6.3" fill="#fff" text-anchor="middle" >17</text>
<text x="850.83" y="546.52" font-size="6.3" fill="#fff" text-anchor="middle" >16</text>
<text x="668.70" y="546.72" font-size="7.7" fill="#595959" text-anchor="start" textLength="60.60" lengthAdjust="spacingAndGlyphs" >Urban development</text>
<rect x="738.00" y="558.03" width="63.18" height="7.00" fill="#CC0000" />
<rect x="801.18" y="558.03" width="76.72" height="7.00" fill="#009900" />
<text x="769.59" y="563.83" font-size="6.3" fill="#fff" text-anchor="middle" >14</text>
<text x="839.54" y="563.83" font-size="6.3" fill="#fff" text-anchor="middle" >17</text>
<text x="699.80" y="564.03" font-size="7.7" fill="#595959" text-anchor="start" textLength="30.10" lengthAdjust="spacingAndGlyphs" >Collection</text>
<rect x="738.00" y="575.34" width="49.64" height="7.00" fill="#CC0000" />
<rect x="787.64" y="575.34" width="81.23" height="7.00" fill="#009900" />
<text x="762.82" y="581.14" font-size="6.3" fill="#fff" text-anchor="middle" >11</text>
<text x="828.26" y="581.14" font-size="6.3" fill="#fff" text-anchor="middle" >18</text>
<text x="643.80" y="581.34" font-size="7.7" fill="#595959" text-anchor="start" textLength="85.20" lengthAdjust="spacingAndGlyphs" >Energy production &amp; mining</text>
<rect x="738.00" y="592.65" width="40.62" height="7.00" fill="#CC0000" />
<rect x="778.62" y="592.65" width="45.13" height="7.00" fill="#009900" />
<text x="758.31" y="598.45" font-size="6.3" fill="#fff" text-anchor="middle" >9</text>
<text x="801.18" y="598.45" font-size="6.3" fill="#fff" text-anchor="middle" >10</text>
<text x="696.40" y="598.65" font-size="7.7" fill="#595959" text-anchor="start" textLength="33.50" lengthAdjust="spacingAndGlyphs" >Agriculture</text>
<rect x="738.00" y="609.96" width="27.08" height="7.00" fill="#CC0000" />
<rect x="765.08" y="609.96" width="18.05" height="7.00" fill="#009900" />
<text x="751.54" y="615.76" font-size="6.3" fill="#fff" text-anchor="middle" >6</text>
<text x="774.10" y="615.76" font-size="6.3" fill="#fff" text-anchor="middle" >4</text>
<text x="670.00" y="615.96" font-size="7.7" fill="#595959" text-anchor="start" textLength="59.30" lengthAdjust="spacingAndGlyphs" >Human disturbance</text>
<rect x="738.00" y="627.27" width="13.54" height="7.00" fill="#CC0000" />
<rect x="751.54" y="627.27" width="4.51" height="7.00" fill="#009900" />
<text x="744.77" y="633.07" font-size="6.3" fill="#fff" text-anchor="middle" >3</text>
<text x="753.80" y="633.07" font-size="6.3" fill="#fff" text-anchor="middle" >1</text>
<text x="676.10" y="633.27" font-size="7.7" fill="#595959" text-anchor="start" textLength="53.10" lengthAdjust="spacingAndGlyphs" >Geological events</text>
<rect x="738.00" y="644.58" width="9.03" height="7.00" fill="#CC0000" />
<rect x="747.03" y="644.58" width="18.05" height="7.00" fill="#009900" />
<text x="742.51" y="650.38" font-size="6.3" fill="#fff" text-anchor="middle" >2</text>
<text x="756.05" y="650.38" font-size="6.3" fill="#fff" text-anchor="middle" >4</text>
<text x="655.20" y="650.58" font-size="7.7" fill="#595959" text-anchor="start" textLength="73.00" lengthAdjust="spacingAndGlyphs" >Transportation corridors</text>
<rect x="738.00" y="661.89" width="4.51" height="7.00" fill="#CC0000" />
<text x="740.26" y="667.69" font-size="6.3" fill="#fff" text-anchor="middle" >1</text>
<text x="628.90" y="667.89" font-size="7.7" fill="#595959" text-anchor="start" textLength="99.30" lengthAdjust="spacingAndGlyphs" >Invasive and problematic species</text>
<rect x="738.00" y="679.20" width="13.54" height="7.00" fill="#009900" />
<text x="744.77" y="685.00" font-size="6.3" fill="#fff" text-anchor="middle" >3</text>
<text x="640.00" y="685.20" font-size="7.7" fill="#595959" text-anchor="start" textLength="88.20" lengthAdjust="spacingAndGlyphs" >Natural system modifications</text>
<rect x="738.00" y="696.51" width="4.51" height="7.00" fill="#009900" />
<text x="740.26" y="702.31" font-size="6.3" fill="#fff" text-anchor="middle" >1</text>
<text x="662.60" y="702.51" font-size="7.7" fill="#595959" text-anchor="start" textLength="66.60" lengthAdjust="spacingAndGlyphs" >Gardens and orchards</text>
<text x="738.00" y="720.70" font-size="6.1" fill="#595959" text-anchor="middle" >0</text>
<text x="783.13" y="720.70" font-size="6.1" fill="#595959" text-anchor="middle" >10</text>
<text x="828.26" y="720.70" font-size="6.1" fill="#595959" text-anchor="middle" >20</text>
<text x="873.39" y="720.70" font-size="6.1" fill="#595959" text-anchor="middle" >30</text>
<text x="918.52" y="720.70" font-size="6.1" fill="#595959" text-anchor="middle" >40</text>
<text x="963.65" y="720.70" font-size="6.1" fill="#595959" text-anchor="middle" >50</text>
<text x="1008.78" y="720.70" font-size="6.1" fill="#595959" text-anchor="middle" >60</text>
<rect x="873.60" y="630.60" width="4.50" height="5.00" fill="#CC0000" />
<text x="881.00" y="636.00" font-size="9" fill="#595959" text-anchor="start" textLength="43.00" lengthAdjust="spacingAndGlyphs" >Threatened</text>
<rect x="873.60" y="655.20" width="4.50" height="4.70" fill="#009900" />
<text x="881.00" y="660.00" font-size="9" fill="#595959" text-anchor="start" textLength="57.10" lengthAdjust="spacingAndGlyphs" >Not threatened</text>
</svg>
</body></html>
